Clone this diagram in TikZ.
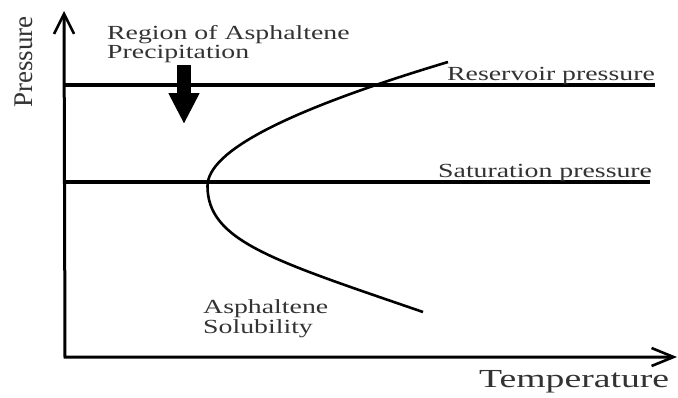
\documentclass[tikz,border=0pt]{standalone}
\usepackage{fontspec}
\setmainfont{Liberation Serif}
\newfontfamily\wideserif[FakeStretch=1.39]{Liberation Serif}
\newfontfamily\widerserif[FakeStretch=1.45]{Liberation Serif}
\usetikzlibrary{arrows.meta}
\tikzset{
  axisline/.style={line width=3pt, line join=miter,
    {Straight Barb[length=20pt,width=20pt,line width=2.6pt]}-{Straight Barb[length=22pt,width=18pt,line width=2.6pt]}},
  pline/.style={line width=3.3pt},
  curveline/.style={line width=2.6pt},
  lbl/.style={inner sep=0pt, text=black!80, font=\wideserif\fontsize{20}{20}\selectfont},
  axlbl/.style={inner sep=0pt, text=black!80},
  bigarrow/.style={line width=14pt, -{Triangle[length=31pt,width=29pt]}}
}
\begin{document}
\begin{tikzpicture}[x=1pt,y=-1pt]
\useasboundingbox[fill=white] (0,0) rectangle (678,397);
% axes
\coordinate (Ytip) at (64,11);
\coordinate (O) at (65,357);
\coordinate (Xtip) at (677,357);
\draw[axisline] (Ytip) -- (O) -- (Xtip);
% pressure lines
\coordinate (r0) at (65,85);
\coordinate (r1) at (655,85);
\coordinate (s0) at (65,182);
\coordinate (s1) at (650,182);
\draw[pline] (r0) -- (r1);
\draw[pline] (s0) -- (s1);
% solubility curve
\coordinate (cT) at (448,62);
\coordinate (cV) at (207.5,186);
\coordinate (cB) at (423,312);
\draw[curveline] (cT) .. controls (288,110) and (207.5,151) .. (cV)
                      .. controls (207.5,241) and (273,260.4) .. (cB);
% big arrow
\coordinate (a0) at (184,65);
\coordinate (a1) at (184,124);
\draw[bigarrow] (a0) -- (a1);
% labels
\node[lbl, anchor=base west] (reg1) at (107,39) {Region of Asphaltene};
\node[lbl, anchor=base west] (reg2) at (107,58) {Precipitation};
\node[lbl, anchor=base west] (res) at (447,80) {Reservoir pressure};
\node[lbl, anchor=base west] (sat) at (438,177) {Saturation pressure};
\node[lbl, anchor=base west] (asp1) at (203,313) {Asphaltene};
\node[lbl, anchor=base west] (asp2) at (203,333) {Solubility};
\node[axlbl, anchor=base west, font=\widerserif\fontsize{26}{26}\selectfont] (temp) at (479,387) {Temperature};
\node[axlbl, rotate=90, font=\fontsize{27}{27}\selectfont] (pres) at (24,62) {Pressure};
\end{tikzpicture}
\end{document}
